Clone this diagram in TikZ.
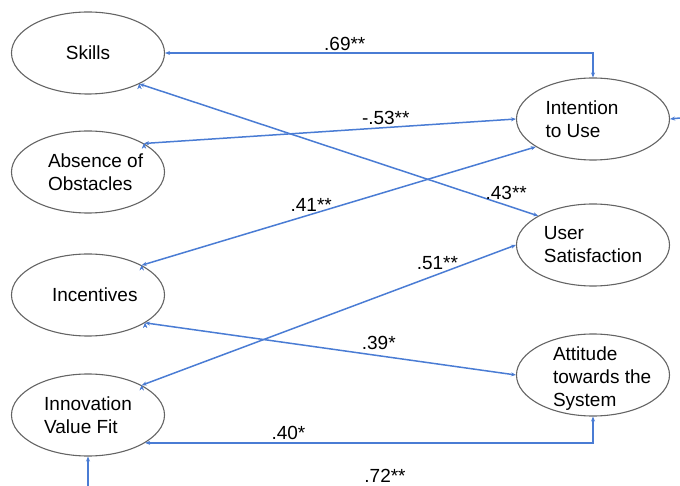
\documentclass[tikz,border=0pt]{standalone}
\usepackage{fontspec}
\setmainfont{Liberation Sans}
\usepackage{tikz}
\usetikzlibrary{arrows.meta,calc,positioning,shapes.geometric}
\definecolor{pathblue}{RGB}{74,124,212}
\definecolor{rimgray}{RGB}{100,100,100}
\tikzset{>={Stealth[length=5pt,width=4pt]},
	latent/.style={% ellipses for the constructs
		draw=rimgray, shape=ellipse,
		line width=1.1pt,
		minimum width=153pt,
		minimum height=82pt,
		inner sep=0pt,
		font=\fontsize{19}{23}\selectfont,
		align=left
	},
	path/.style={
		draw=pathblue,
		line width=1.5pt
	},
	coef/.style={
		font=\fontsize{19}{21}\selectfont,
		inner sep=2pt
	}
}
\newcommand{\shiftline}[2][10pt]{\makebox[100pt][l]{\hspace*{#1}#2}}
\begin{document}
\begin{tikzpicture}[x=1pt,y=-1pt]
			\useasboundingbox (0,0) rectangle (680,486);
			\node [latent] (skills) at (88,53) {Skills};
			\node [latent] (absence) at (88,172) {\shiftline{Absence of}\\\shiftline{Obstacles}};
			\node [latent] (incent) at (88,295) {\shiftline[14pt]{Incentives}};
			\node [latent] (innov) at (88,415) {Innovation\\Value Fit};
			\node [latent] (intention) at (593,119) {\hspace*{-22pt}Intention\\\hspace*{-22pt}to Use};
			\node [latent] (usat) at (593,245) {User\\Satisfaction};
			\node [latent] (attit) at (593,375) {\parbox[c][50pt][c]{100pt}{\vspace*{8pt}\shiftline{Attitude}\\\shiftline{towards the}\\\shiftline{System}}};
			\coordinate (outR) at (680,118);
			\coordinate (outB) at (88,486);
			\draw [path,<->] (skills.east) -| node[coef,pos=0.21,above] {.69**} (intention.north);
			\draw [path,<->] (absence.27) edge node[coef,pos=0.65,above] {-.53**} (intention.west);
			\draw [path,<->] (skills.-31) edge node[coef,pos=0.92,above=3pt] {.43**} (usat.152);
			\draw [path,<->] (incent.29) edge node[coef,pos=0.43,above] {.41**} (intention.206);
			\draw [path,<->] (innov.29) edge node[coef,pos=0.79,above=2pt] {.51**} (usat.west);
			\draw [path,<->] (incent.-26) edge node[coef,pos=0.63,above=3pt] {.39*} (attit.west);
			\draw [path,<->] (innov.-26) -| node[coef,pos=0.16,above] {.40*} (attit.south);
			\draw [path,<-] (intention.east) -- (outR);
			\draw [path,<-] (innov.south) -- (outB);
			\node [coef] (coefBottom) at (385,476) {.72**};
\end{tikzpicture}
\end{document}
